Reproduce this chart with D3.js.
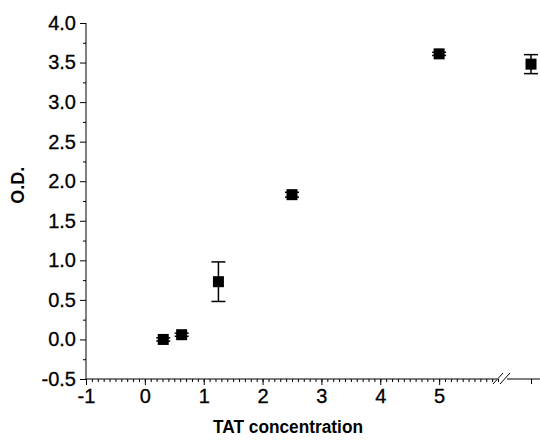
<!DOCTYPE html>
<html>
<head>
<meta charset="utf-8">
<script src="https://cdn.jsdelivr.net/npm/d3@7"></script>
<style>
body{margin:0;background:#fff;}
svg{display:block;font-family:"Liberation Sans",Arial,sans-serif;}
</style>
</head>
<body>
<div id="chart"></div>
<script>
// TAT concentration vs O.D.
const conc=[0.3125,0.625,1.25,2.5,5];
const od=[0.0,0.06,0.73,1.83,3.61];
const err=[0.02,0.02,0.25,0.03,0.02];
// point after the axis break
const concBrk=[10];
const odBrk=[3.48];
const errBrk=[0.12];
const xTicks=[-1,0,1,2,3,4,5];
const yTicks=[-0.5,0,0.5,1,1.5,2,2.5,3,3.5,4];

const W=540,H=440;
const svg=d3.select("#chart").append("svg").attr("width",W).attr("height",H);

const x=d3.scaleLinear().domain([-1,6]).range([86,498]);
const xB=d3.scaleLinear().domain([9,11]).range([472,590]);
const y=d3.scaleLinear().domain([-0.5,4]).range([379,23]);
const hy=s=>s.replace("\u2212","-");

// ── AXE X ─────────────────────────────────────
const gx=svg.append("g").attr("transform",`translate(0,${y(-0.5)})`);
gx.append("g")
  .call(d3.axisBottom(x).tickValues(d3.range(-1,6.0001,0.1)).tickSize(3).tickFormat(""))
  .call(a=>a.select(".domain").remove());
gx.append("g")
  .call(d3.axisBottom(x).tickValues(xTicks).tickSize(6).tickPadding(4).tickFormat(d=>hy(d3.format("d")(d))))
  .call(a=>a.select(".domain").remove())
  .selectAll("text").style("font-size","20px").attr("fill","#000").attr("stroke","#000").attr("stroke-width",0.3);
gx.append("line").attr("x1",x(-1)).attr("x2",x(6)-1).attr("stroke","#000");
gx.append("line").attr("x1",507).attr("x2",W).attr("stroke","#000");
gx.append("g")
  .call(d3.axisBottom(xB).tickValues(concBrk).tickSize(5).tickFormat(""))
  .call(a=>a.select(".domain").remove());
// break marks
[[496,504],[503,511]].forEach(([a,b])=>{
  gx.append("line").attr("x1",a-3).attr("y1",5).attr("x2",b-1).attr("y2",-6).attr("stroke","#000");
});
gx.selectAll(".tick line").attr("stroke","#000");

// ── AXE Y ─────────────────────────────────────
const gy=svg.append("g").attr("transform",`translate(${x(-1)},0)`);
gy.append("g")
  .call(d3.axisLeft(y).tickValues(d3.range(-0.25,4,0.5)).tickSize(3).tickFormat(""))
  .call(a=>a.select(".domain").remove());
gy.append("g")
  .call(d3.axisLeft(y).tickValues(yTicks).tickSize(6).tickPadding(4).tickFormat(d=>hy(d3.format(".1f")(d))))
  .call(a=>a.select(".domain").remove())
  .selectAll("text").style("font-size","20px").attr("fill","#000").attr("stroke","#000").attr("stroke-width",0.3);
gy.append("line").attr("y1",y(-0.5)).attr("y2",y(4)).attr("stroke","#000");
gy.selectAll(".tick line").attr("stroke","#000");

// ── TITRES ────────────────────────────────────
svg.append("text").attr("transform",`translate(24,${y(1.95)}) rotate(-90)`)
  .attr("text-anchor","middle").attr("font-size",18).attr("font-weight","bold").text("O.D.");
svg.append("text").attr("x",288).attr("y",433)
  .attr("text-anchor","middle").attr("font-size",18).attr("font-weight","bold")
  .attr("textLength",150).attr("lengthAdjust","spacingAndGlyphs").text("TAT concentration");

// ── POINTS ────────────────────────────────────
const pts=conc.map((c,i)=>({px:x(c),v:od[i],e:err[i]}))
  .concat(concBrk.map((c,i)=>({px:xB(c),v:odBrk[i],e:errBrk[i]})));
const pg=svg.append("g");
pts.forEach(p=>{
  pg.append("line").attr("x1",p.px).attr("x2",p.px).attr("y1",y(p.v+p.e)).attr("y2",y(p.v-p.e))
    .attr("stroke","#000").attr("stroke-width",1.5);
  [p.v+p.e,p.v-p.e].forEach(v=>{
    pg.append("line").attr("x1",p.px-7).attr("x2",p.px+7).attr("y1",y(v)).attr("y2",y(v))
      .attr("stroke","#000").attr("stroke-width",1.5);
  });
  pg.append("rect").attr("x",p.px-5.5).attr("y",y(p.v)-5.5).attr("width",11).attr("height",11).attr("fill","#000");
});
</script>
</body>
</html>
